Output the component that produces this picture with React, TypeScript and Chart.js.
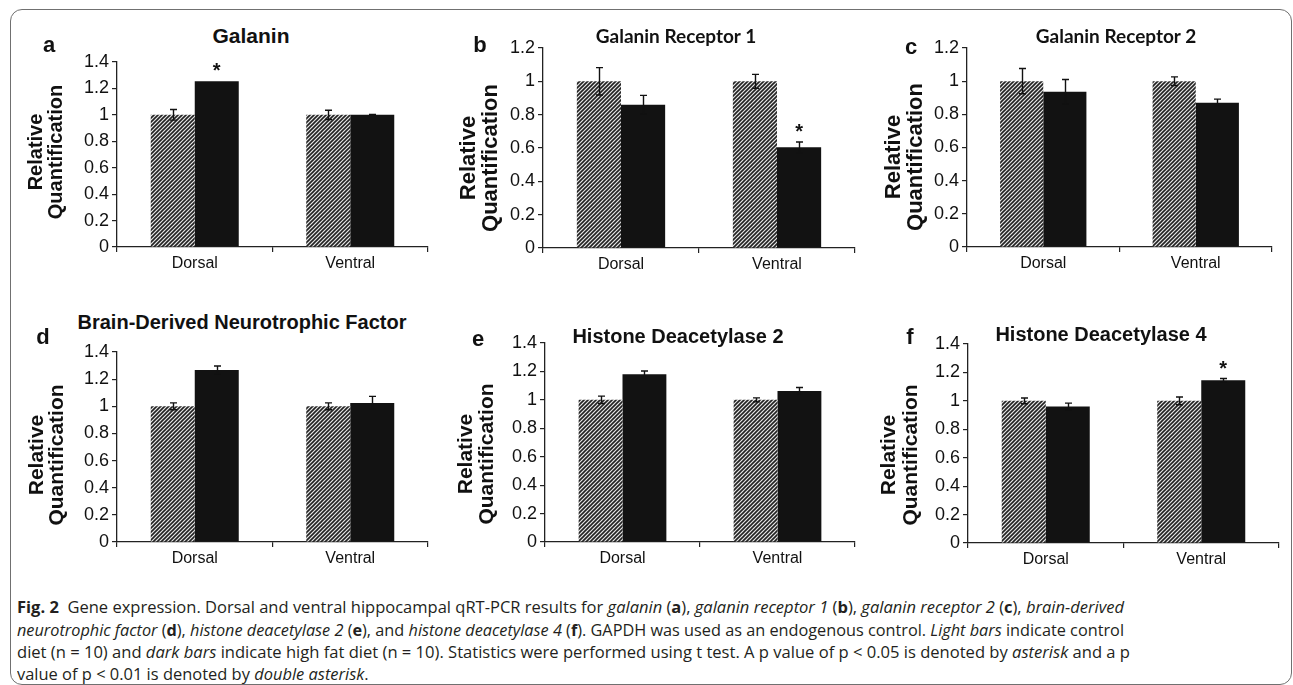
import React, { useEffect, useLayoutEffect, useRef } from 'react';
import { Chart, registerables } from 'chart.js';

Chart.register(...registerables);

const ARIAL = 'Arial, "Liberation Sans", Helvetica, sans-serif';
const CAL = 'Lato, "Open Sans", Arial, sans-serif';
const CAPTION_FONT = '"Open Sans", "Noto Sans", sans-serif';

// ---------------- data ----------------
const categories = ['Dorsal', 'Ventral'];
const seriesNames = ['Control diet', 'High fat diet'];
const yAxisTitle = ['Relative', 'Quantification'];
const yLabels14 = ['0', '0.2', '0.4', '0.6', '0.8', '1', '1.2', '1.4'];
const yLabels12 = ['0', '0.2', '0.4', '0.6', '0.8', '1', '1.2'];

const galaninControl = [1.0, 1.0];
const galaninControlErr = [0.04, 0.035];
const galaninHighFat = [1.255, 1.0];
const galaninHighFatErr = [0.0, 0.004];
const galaninSig = ['*', ''];

const galr1Control = [1.0, 1.0];
const galr1ControlErr = [0.082, 0.042];
const galr1HighFat = [0.86, 0.604];
const galr1HighFatErr = [0.056, 0.032];
const galr1Sig = ['', '*'];

const galr2Control = [1.0, 1.0];
const galr2ControlErr = [0.076, 0.026];
const galr2HighFat = [0.936, 0.87];
const galr2HighFatErr = [0.074, 0.022];
const galr2Sig = ['', ''];

const bdnfControl = [1.0, 1.0];
const bdnfControlErr = [0.025, 0.025];
const bdnfHighFat = [1.267, 1.025];
const bdnfHighFatErr = [0.03, 0.048];
const bdnfSig = ['', ''];

const hdac2Control = [1.0, 1.0];
const hdac2ControlErr = [0.026, 0.014];
const hdac2HighFat = [1.18, 1.063];
const hdac2HighFatErr = [0.023, 0.024];
const hdac2Sig = ['', ''];

const hdac4Control = [1.0, 1.0];
const hdac4ControlErr = [0.02, 0.027];
const hdac4HighFat = [0.96, 1.145];
const hdac4HighFatErr = [0.024, 0.012];
const hdac4Sig = ['', '*'];

const panelTitles = [
  'Galanin',
  'Galanin Receptor 1',
  'Galanin Receptor 2',
  'Brain-Derived Neurotrophic Factor',
  'Histone Deacetylase 2',
  'Histone Deacetylase 4',
];
const panelLetters = ['a', 'b', 'c', 'd', 'e', 'f'];

const panels = [
  { control: galaninControl, controlErr: galaninControlErr, highFat: galaninHighFat, highFatErr: galaninHighFatErr, sig: galaninSig, yMax: 1.4, yLabels: yLabels14 },
  { control: galr1Control, controlErr: galr1ControlErr, highFat: galr1HighFat, highFatErr: galr1HighFatErr, sig: galr1Sig, yMax: 1.2, yLabels: yLabels12 },
  { control: galr2Control, controlErr: galr2ControlErr, highFat: galr2HighFat, highFatErr: galr2HighFatErr, sig: galr2Sig, yMax: 1.2, yLabels: yLabels12 },
  { control: bdnfControl, controlErr: bdnfControlErr, highFat: bdnfHighFat, highFatErr: bdnfHighFatErr, sig: bdnfSig, yMax: 1.4, yLabels: yLabels14 },
  { control: hdac2Control, controlErr: hdac2ControlErr, highFat: hdac2HighFat, highFatErr: hdac2HighFatErr, sig: hdac2Sig, yMax: 1.4, yLabels: yLabels14 },
  { control: hdac4Control, controlErr: hdac4ControlErr, highFat: hdac4HighFat, highFatErr: hdac4HighFatErr, sig: hdac4Sig, yMax: 1.4, yLabels: yLabels14 },
];

// ---------------- layout (page pixels) ----------------
const layouts = [
  { canvas: [10, 47, 440, 230], yw: 107, pt: 15, pr: 22, xh: 30, yt: { x1: 36, x2: 56, y: 152, size: 20 }, title: { x: 251, y: 35, size: 21, family: ARIAL }, letter: { x: 49, base: 53 } },
  { canvas: [440, 33, 430, 245], yw: 103, pt: 15, pr: 15, xh: 30, yt: { x1: 469, x2: 491, y: 158, size: 22 }, title: { x: 676, y: 35, size: 19, family: CAL }, letter: { x: 480, base: 53 } },
  { canvas: [870, 33, 420, 245], yw: 97, pt: 15, pr: 18, xh: 31, yt: { x1: 894, x2: 916, y: 157, size: 22 }, title: { x: 1116, y: 35, size: 19, family: CAL }, letter: { x: 911, base: 55 } },
  { canvas: [10, 337, 440, 240], yw: 107, pt: 15, pr: 22, xh: 35, yt: { x1: 37, x2: 57, y: 455, size: 21 }, title: { x: 242, y: 322, size: 20, family: ARIAL }, letter: { x: 43, base: 345 } },
  { canvas: [440, 328, 430, 245], yw: 105, pt: 15, pr: 15, xh: 31, yt: { x1: 466, x2: 487, y: 454, size: 21 }, title: { x: 678, y: 336, size: 20, family: ARIAL }, letter: { x: 478, base: 347 } },
  { canvas: [870, 329, 420, 245], yw: 98, pt: 15, pr: 11, xh: 31, yt: { x1: 889, x2: 911, y: 455, size: 21 }, title: { x: 1101, y: 334, size: 20, family: ARIAL }, letter: { x: 910, base: 345 } },
];

// ---------------- caption ----------------
type Seg = { t: string; b?: boolean; i?: boolean };
const captionLines: Seg[][] = [
  [
    { t: 'Fig. 2', b: true },
    { t: '  Gene expression. Dorsal and ventral hippocampal qRT-PCR results for ' },
    { t: 'galanin', i: true }, { t: ' (' }, { t: 'a', b: true }, { t: '), ' },
    { t: 'galanin receptor 1', i: true }, { t: ' (' }, { t: 'b', b: true }, { t: '), ' },
    { t: 'galanin receptor 2', i: true }, { t: ' (' }, { t: 'c', b: true }, { t: '), ' },
    { t: 'brain-derived', i: true },
  ],
  [
    { t: 'neurotrophic factor', i: true }, { t: ' (' }, { t: 'd', b: true }, { t: '), ' },
    { t: 'histone deacetylase 2', i: true }, { t: ' (' }, { t: 'e', b: true }, { t: '), and ' },
    { t: 'histone deacetylase 4', i: true }, { t: ' (' }, { t: 'f', b: true },
    { t: '). GAPDH was used as an endogenous control. ' },
    { t: 'Light bars', i: true }, { t: ' indicate control' },
  ],
  [
    { t: 'diet (n = 10) and ' }, { t: 'dark bars', i: true },
    { t: ' indicate high fat diet (n = 10). Statistics were performed using t test. A p value of p < 0.05 is denoted by ' },
    { t: 'asterisk', i: true }, { t: ' and a p' },
  ],
  [
    { t: 'value of p < 0.01 is denoted by ' }, { t: 'double asterisk', i: true }, { t: '.' },
  ],
];
const captionBaselines = [613, 636, 658, 680];
const captionWidths = [1107, 1107, 1113, 0];

function makeHatch(): CanvasPattern | string {
  const c = document.createElement('canvas');
  const s = 4;
  c.width = s;
  c.height = s;
  const g = c.getContext('2d');
  if (!g) return '#888';
  g.fillStyle = '#e6e6e6';
  g.fillRect(0, 0, s, s);
  g.strokeStyle = '#222';
  g.lineWidth = 1.6;
  g.beginPath();
  for (let k = -1; k <= 1; k++) {
    g.moveTo(k * s - 1, s + 1);
    g.lineTo(k * s + s + 1, -1);
  }
  g.stroke();
  return g.createPattern(c, 'repeat') || '#888';
}

function makeOverlay(P: any, L: any, idx: number) {
  return {
    id: 'overlay' + idx,
    afterDatasetsDraw(chart: any) {
      const ctx: CanvasRenderingContext2D = chart.ctx;
      const ys = chart.scales.y;
      const cl = L.canvas[0];
      const ct = L.canvas[1];
      const sets: [number[], number[]][] = [
        [P.control, P.controlErr],
        [P.highFat, P.highFatErr],
      ];
      ctx.save();
      ctx.strokeStyle = '#111';
      ctx.lineWidth = 1.4;
      sets.forEach(([vals, errs], d) => {
        const meta = chart.getDatasetMeta(d);
        meta.data.forEach((bar: any, i: number) => {
          const e = errs[i];
          if (!e) return;
          const x = Math.round(bar.x) + 0.5;
          const yt = ys.getPixelForValue(vals[i] + e);
          const yb = ys.getPixelForValue(vals[i] - e);
          ctx.beginPath();
          ctx.moveTo(x, yb);
          ctx.lineTo(x, yt);
          ctx.moveTo(x - 3.5, yt);
          ctx.lineTo(x + 3.5, yt);
          ctx.moveTo(x - 3.5, yb);
          ctx.lineTo(x + 3.5, yb);
          ctx.stroke();
        });
      });
      const hm = chart.getDatasetMeta(1);
      ctx.fillStyle = '#111';
      ctx.font = `bold 20px ${ARIAL}`;
      ctx.textAlign = 'center';
      ctx.textBaseline = 'alphabetic';
      P.sig.forEach((s: string, i: number) => {
        if (!s) return;
        const top = ys.getPixelForValue(P.highFat[i] + P.highFatErr[i]);
        const m = ctx.measureText(s);
        const cy = top - 14;
        const base = cy + (m.actualBoundingBoxAscent - m.actualBoundingBoxDescent) / 2;
        ctx.fillText(s, hm.data[i].x, base);
      });
      ctx.font = `bold ${L.yt.size}px ${ARIAL}`;
      ctx.textBaseline = 'middle';
      const xs = [L.yt.x1, L.yt.x2];
      yAxisTitle.forEach((t, k) => {
        ctx.save();
        ctx.translate(xs[k] - cl, L.yt.y - ct);
        ctx.rotate(-Math.PI / 2);
        ctx.fillText(t, 0, 0);
        ctx.restore();
      });
      ctx.restore();
    },
  };
}

function Caption() {
  const refs = useRef<(HTMLSpanElement | null)[]>([]);
  useLayoutEffect(() => {
    const scales: number[] = [];
    refs.current.forEach((el, k) => {
      if (!el) return;
      el.style.transform = 'none';
      const w = el.getBoundingClientRect().width;
      if (captionWidths[k] > 0 && w > 0) scales[k] = captionWidths[k] / w;
    });
    const valid = scales.filter((v) => v);
    const avg = valid.reduce((a, b) => a + b, 0) / (valid.length || 1);
    refs.current.forEach((el, k) => {
      if (!el) return;
      const s = scales[k] || avg;
      el.style.transform = `scaleX(${s})`;
    });
  }, []);
  return (
    <>
      {captionLines.map((line, k) => (
        <div
          key={k}
          style={{
            position: 'absolute',
            left: 17,
            top: captionBaselines[k] - 16.5,
            lineHeight: '20px',
            fontSize: 16.3,
            fontFamily: CAPTION_FONT,
            color: '#231f20',
            whiteSpace: 'pre',
          }}
        >
          <span
            ref={(el) => {
              refs.current[k] = el;
            }}
            style={{ display: 'inline-block', transformOrigin: '0 0' }}
          >
            {line.map((sg, j) => (
              <span
                key={j}
                style={{ fontWeight: sg.b ? 700 : 400, fontStyle: sg.i ? 'italic' : 'normal' }}
              >
                {sg.t}
              </span>
            ))}
          </span>
        </div>
      ))}
    </>
  );
}

export default function App() {
  const canvasRefs = useRef<(HTMLCanvasElement | null)[]>([]);

  useEffect(() => {
    const hatch = makeHatch();
    const charts: Chart[] = [];
    panels.forEach((P, idx) => {
      const L = layouts[idx];
      const cv = canvasRefs.current[idx];
      if (!cv) return;
      const chart = new Chart(cv, {
        type: 'bar',
        data: {
          labels: categories,
          datasets: [
            {
              label: seriesNames[0],
              data: P.control,
              backgroundColor: hatch as any,
              borderWidth: 0,
              categoryPercentage: 0.566,
              barPercentage: 1.0,
            },
            {
              label: seriesNames[1],
              data: P.highFat,
              backgroundColor: '#121212',
              borderWidth: 0,
              categoryPercentage: 0.566,
              barPercentage: 1.0,
            },
          ],
        },
        options: {
          animation: false,
          responsive: false,
          maintainAspectRatio: false,
          devicePixelRatio: 1,
          layout: { padding: { top: L.pt, right: L.pr, left: 0, bottom: 0 } },
          plugins: {
            legend: { display: false },
            tooltip: { enabled: false },
            title: { display: false },
          },
          scales: {
            x: {
              z: 1,
              grid: {
                display: true,
                drawOnChartArea: false,
                drawTicks: true,
                tickLength: 5,
                color: '#222',
                lineWidth: 1.2,
                offset: true,
              },
              border: { display: true, color: '#222', width: 1.3 },
              ticks: {
                color: '#111',
                font: { family: ARIAL, size: 16 },
                padding: 2,
                maxRotation: 0,
              },
              afterFit: (s: any) => {
                s.height = L.xh;
              },
            } as any,
            y: {
              z: 1,
              min: 0,
              max: P.yMax,
              grid: {
                display: true,
                drawOnChartArea: false,
                drawTicks: true,
                tickLength: 5,
                color: '#222',
                lineWidth: 1.2,
              },
              border: { display: true, color: '#222', width: 1.3 },
              ticks: {
                stepSize: 0.2,
                autoSkip: false,
                color: '#111',
                font: { family: ARIAL, size: 18 },
                padding: 3,
                callback: (v: any) => P.yLabels[Math.round(Number(v) / 0.2)] ?? '',
              },
              afterFit: (s: any) => {
                s.width = L.yw;
              },
            } as any,
          },
        },
        plugins: [makeOverlay(P, L, idx)],
      });
      charts.push(chart);
    });
    return () => {
      charts.forEach((c) => c.destroy());
    };
  }, []);

  return (
    <div
      style={{
        position: 'absolute',
        left: 0,
        top: 0,
        width: 1293,
        height: 685,
        overflow: 'hidden',
        background: '#fff',
      }}
    >
      <div
        style={{
          position: 'absolute',
          left: 10,
          top: 9,
          width: 1282,
          height: 676,
          boxSizing: 'border-box',
          border: '1.5px solid #707070',
          borderRadius: 12,
        }}
      />
      {layouts.map((L, idx) => (
        <canvas
          key={'c' + idx}
          ref={(el) => {
            canvasRefs.current[idx] = el;
          }}
          width={L.canvas[2]}
          height={L.canvas[3]}
          style={{
            position: 'absolute',
            left: L.canvas[0],
            top: L.canvas[1],
            width: L.canvas[2],
            height: L.canvas[3],
          }}
        />
      ))}
      {layouts.map((L, idx) => (
        <div
          key={'t' + idx}
          style={{
            position: 'absolute',
            left: L.title.x,
            top: L.title.y - 0.49 * L.title.size,
            transform: 'translateX(-50%)',
            fontFamily: L.title.family,
            fontWeight: 700,
            fontSize: L.title.size,
            lineHeight: `${L.title.size}px`,
            whiteSpace: 'nowrap',
            color: '#111',
          }}
        >
          {panelTitles[idx]}
        </div>
      ))}
      {layouts.map((L, idx) => (
        <div
          key={'l' + idx}
          style={{
            position: 'absolute',
            left: L.letter.x,
            top: L.letter.base - 0.8465 * 22,
            transform: 'translateX(-50%)',
            fontFamily: ARIAL,
            fontWeight: 700,
            fontSize: 22,
            lineHeight: '22px',
            color: '#111',
          }}
        >
          {panelLetters[idx]}
        </div>
      ))}
      <Caption />
    </div>
  );
}
